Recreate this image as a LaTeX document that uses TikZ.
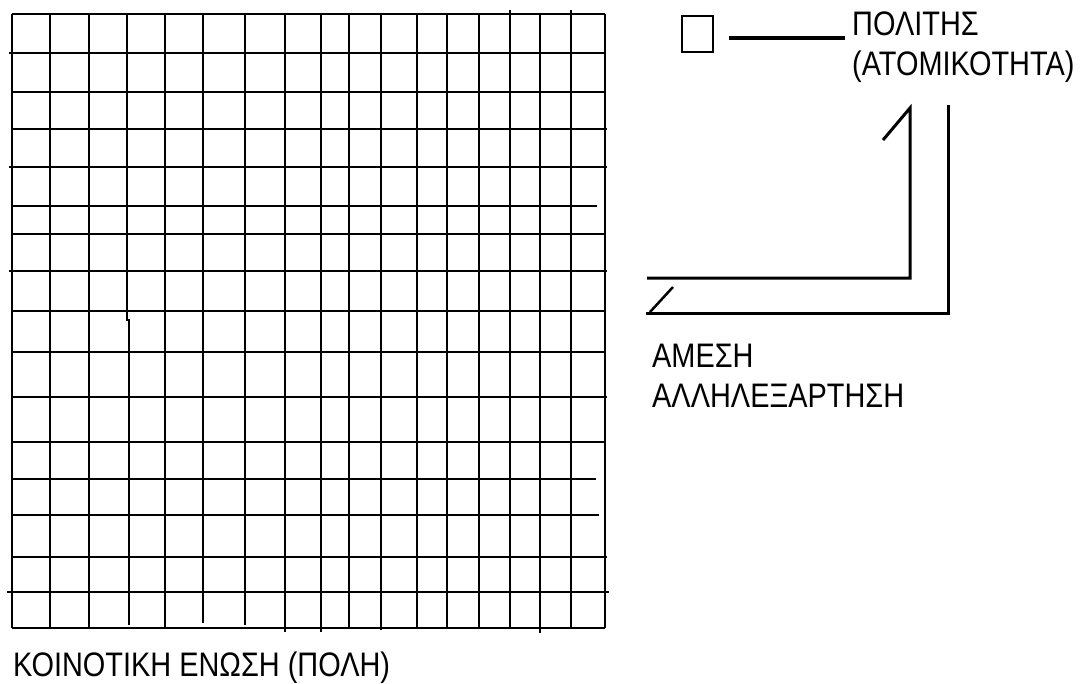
\documentclass[tikz,border=0pt]{standalone}
\usepackage{fontspec}
\newfontfamily\grfont[FakeStretch=0.85]{Liberation Sans}
\usetikzlibrary{positioning}

\begin{document}
\begin{tikzpicture}[x=1pt, y=-1pt,
  gridline/.style={line width=2.2pt},
  bond/.style={line width=3pt},
  label/.style={font=\grfont\fontsize{34}{40}\selectfont, inner sep=0pt, anchor=base west, align=left}]
  \useasboundingbox (0,0) rectangle (1081,683);
  % the city as a grid
  \foreach \y/\a/\b in {14/12/605, 53/9/605, 92/12/605, 129/12/607, 167/9/607, 206/12/597,
      234/12/605, 271/9/607, 311/12/605, 352/12/605, 397/12/607, 442/12/605,
      479/12/596, 515/12/599, 557/12/607, 592/7/609, 628/12/605} {
    \draw[gridline] (\a,\y) -- (\b,\y);
  }
  \foreach \x/\t/\u in {12/14/628, 50/14/628, 89/14/628, 165/14/628, 203/14/623, 245/14/625,
      285/14/632, 321/14/632, 349/14/628, 381/14/630, 417/14/628, 447/14/628,
      479/14/628, 510/10/628, 540/14/633, 571/10/628, 605/14/628} {
    \draw[gridline] (\x,\t) -- (\x,\u);
  }
  \draw[gridline] (127,14) -- (127,320) -- (129,320) -- (129,625);
  \node[label] (city) at (13,676) {ΚΟΙΝΟΤΙΚΗ ΕΝΩΣΗ (ΠΟΛΗ)};
  % the citizen
  \node[draw, line width=2pt, minimum width=31pt, minimum height=36pt, inner sep=0pt] (citizen) at (697.5,34) {};
  \node[label] (politis) at (852,75) {ΠΟΛΙΤΗΣ\\(ΑΤΟΜΙΚΟΤΗΤΑ)};
  \draw[line width=4pt, shorten <=15pt, shorten >=7pt]
    ([yshift=-4pt]citizen.east) -- ([yshift=-4pt]citizen.east -| politis.west);
  % interdependence
  \node[label] (amesi) at (652,407) {ΑΜΕΣΗ\\ΑΛΛΗΛΕΞΑΡΤΗΣΗ};
  \draw[bond] (883,140) -- (910,108) -- (910,278) -- (647,278);
  \draw[bond] (948,105) -- (948,313) -- (646,313);
  \draw[line width=2.5pt] (650,312) -- (673,287);
\end{tikzpicture}
\end{document}
